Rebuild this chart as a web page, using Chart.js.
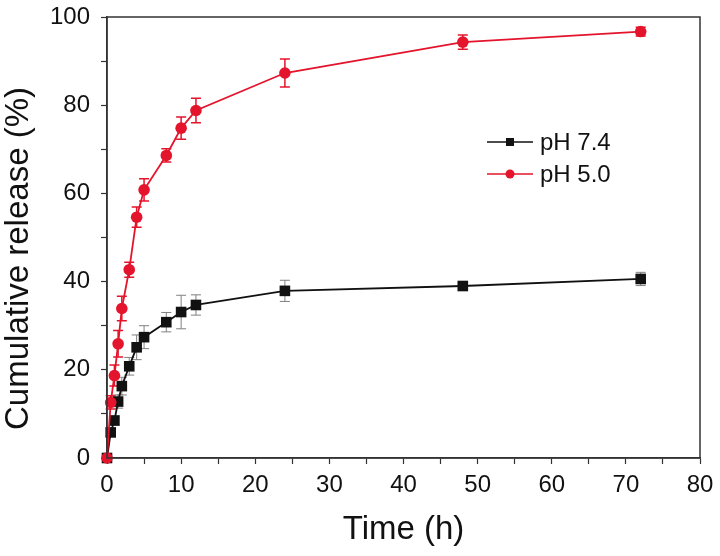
<!DOCTYPE html>
<html>
<head>
<meta charset="utf-8">
<script src="https://cdn.jsdelivr.net/npm/chart.js@4.4.0/dist/chart.umd.min.js"></script>
<style>
    html, body { margin: 0; padding: 0; background: #ffffff; }
    #wrap { width: 720px; height: 556px; position: relative; }
</style>
</head>
<body>
<div id="wrap"><canvas id="release-chart" width="720" height="556"></canvas></div>
<script>
// Release data
const timeHours = [0, 0.5, 1, 1.5, 2, 3, 4, 5, 8, 10, 12, 24, 48, 72];
const releasePH74 = [0, 5.8, 8.5, 12.8, 16.3, 20.8, 25.1, 27.4, 30.8, 33.1, 34.7, 37.9, 39.0, 40.6];
const errorPH74 = [0, 0.8, 1.0, 1.5, 2.0, 2.0, 2.8, 2.6, 2.2, 3.8, 2.3, 2.4, 0.6, 1.5];
const releasePH50 = [0, 12.6, 18.7, 25.9, 33.9, 42.7, 54.6, 60.8, 68.6, 74.8, 78.8, 87.3, 94.3, 96.7];
const errorPH50 = [0, 1.5, 2.4, 3.0, 2.8, 1.7, 2.3, 2.5, 1.5, 2.5, 2.8, 3.2, 1.6, 1.0];
const seriesLabels = ['pH 7.4', 'pH 5.0'];
const xTitle = 'Time (h)';
const yTitle = 'Cumulative release (%)';

const FONT = "'Liberation Sans', Arial, sans-serif";
const RED = '#e3142b';
const BLACK = '#111111';

function toPoints(xs, ys) {
    return xs.map((x, i) => ({ x: x, y: ys[i] }));
}

// Error bars drawn through the chart's own scales
const errorBarPlugin = {
    id: 'errorBars',
    beforeDatasetsDraw(chart) {
        const ctx = chart.ctx;
        const xs = chart.scales.x;
        const ys = chart.scales.y;
        chart.data.datasets.forEach(ds => {
            if (!ds.errors) return;
            ctx.save();
            ctx.strokeStyle = ds.errorColor;
            ctx.lineWidth = ds.errorWidth;
            ds.data.forEach((p, i) => {
                const e = ds.errors[i];
                if (!e) return;
                const px = xs.getPixelForValue(p.x);
                const top = ys.getPixelForValue(p.y + e);
                const bot = ys.getPixelForValue(p.y - e);
                const cap = ds.capHalf;
                ctx.beginPath();
                ctx.moveTo(px, top); ctx.lineTo(px, bot);
                ctx.moveTo(px - cap, top); ctx.lineTo(px + cap, top);
                ctx.moveTo(px - cap, bot); ctx.lineTo(px + cap, bot);
                ctx.stroke();
            });
            ctx.restore();
        });
    }
};

// Frame box, y title and the in-plot legend
const framePlugin = {
    id: 'frame',
    afterDraw(chart) {
        const ctx = chart.ctx;
        const a = chart.chartArea;
        ctx.save();
        ctx.strokeStyle = '#333333';
        ctx.lineWidth = 1.5;
        ctx.strokeRect(a.left, a.top, a.right - a.left, a.bottom - a.top);

        // y axis title
        ctx.fillStyle = '#111111';
        ctx.font = '33px ' + FONT;
        ctx.textAlign = 'center';
        ctx.textBaseline = 'middle';
        ctx.translate(19, (a.top + a.bottom) / 2 + 21);
        ctx.rotate(-Math.PI / 2);
        ctx.fillText(yTitle, 0, 0);
        ctx.restore();

        // legend
        const items = chart.data.datasets;
        const lx = a.left + 380;
        const ly = a.top + 125;
        ctx.save();
        ctx.font = '24px ' + FONT;
        ctx.textBaseline = 'middle';
        ctx.textAlign = 'left';
        items.slice().sort((p, q) => p.legendIndex - q.legendIndex).forEach((ds, i) => {
            const y = ly + i * 32;
            ctx.strokeStyle = ds.borderColor;
            ctx.lineWidth = 1.5;
            ctx.beginPath();
            ctx.moveTo(lx, y); ctx.lineTo(lx + 46, y);
            ctx.stroke();
            ctx.fillStyle = ds.backgroundColor;
            if (ds.pointStyle === 'rect') {
                ctx.fillRect(lx + 23 - 4, y - 4, 8, 8);
            } else {
                ctx.beginPath();
                ctx.arc(lx + 23, y, 4.5, 0, Math.PI * 2);
                ctx.fill();
            }
            ctx.fillStyle = '#111111';
            ctx.fillText(ds.label, lx + 53, y + 1);
        });
        ctx.restore();
    }
};

const ctx = document.getElementById('release-chart');

new Chart(ctx, {
    type: 'line',
    data: {
        datasets: [
            {
                label: seriesLabels[1],
                legendIndex: 1,
                data: toPoints(timeHours, releasePH50),
                errors: errorPH50,
                errorColor: RED,
                errorWidth: 1.5,
                capHalf: 5,
                borderColor: RED,
                backgroundColor: RED,
                borderWidth: 1.8,
                pointStyle: 'circle',
                pointRadius: 5.8,
                pointBorderWidth: 0,
                tension: 0,
                clip: false,
                order: 0
            },
            {
                label: seriesLabels[0],
                legendIndex: 0,
                data: toPoints(timeHours, releasePH74),
                errors: errorPH74,
                errorColor: '#808080',
                errorWidth: 1,
                capHalf: 5,
                borderColor: BLACK,
                backgroundColor: BLACK,
                borderWidth: 1.8,
                pointStyle: 'rect',
                pointRadius: 7.5,
                pointBorderWidth: 0,
                tension: 0,
                clip: false,
                order: 1
            }
        ]
    },
    options: {
        responsive: false,
        animation: false,
        events: [],
        layout: { padding: { top: 17, right: 20, left: 0, bottom: 0 } },
        plugins: {
            legend: { display: false },
            tooltip: { enabled: false }
        },
        scales: {
            x: {
                type: 'linear',
                min: 0,
                max: 80,
                afterFit: function(scale) {
                    scale.height = 98;
                    scale.paddingLeft = 0;
                    scale.paddingRight = 0;
                },
                border: { display: true, color: '#333333', width: 1.5 },
                grid: {
                    drawOnChartArea: false,
                    drawTicks: true,
                    tickLength: 6,
                    tickColor: '#333333',
                    tickWidth: 1.2
                },
                ticks: {
                    stepSize: 5,
                    autoSkip: false,
                    maxRotation: 0,
                    padding: 7,
                    color: '#111111',
                    font: { family: FONT, size: 24 },
                    callback: function(v) { return v % 10 === 0 ? v : ''; }
                },
                title: {
                    display: true,
                    text: xTitle,
                    color: '#111111',
                    font: { family: FONT, size: 33 },
                    padding: { top: 0, bottom: 6 }
                }
            },
            y: {
                type: 'linear',
                min: 0,
                max: 100,
                afterFit: function(scale) {
                    scale.width = 107;
                    scale.paddingTop = 0;
                    scale.paddingBottom = 0;
                },
                border: { display: true, color: '#333333', width: 1.5 },
                grid: {
                    drawOnChartArea: false,
                    drawTicks: true,
                    tickLength: 6,
                    tickColor: '#333333',
                    tickWidth: 1.2
                },
                ticks: {
                    stepSize: 10,
                    autoSkip: false,
                    padding: 11,
                    color: '#111111',
                    font: { family: FONT, size: 24 },
                    callback: function(v) { return v % 20 === 0 ? v : ''; }
                },
                title: { display: false }
            }
        }
    },
    plugins: [errorBarPlugin, framePlugin]
});
</script>
</body>
</html>
